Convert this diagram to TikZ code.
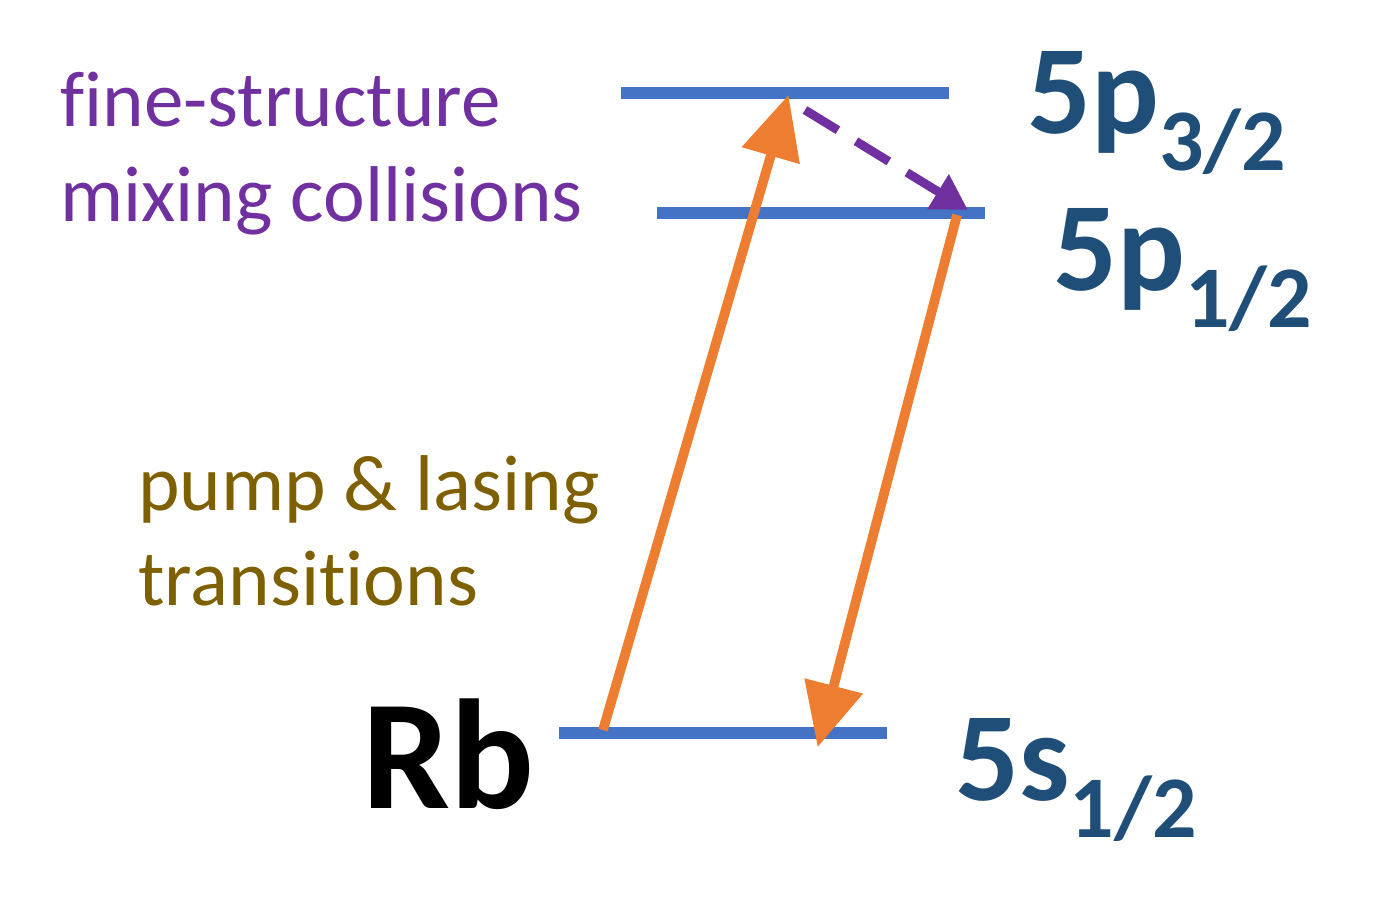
\documentclass[tikz,border=0pt]{standalone}
\usepackage{fontspec}
\setmainfont[Ligatures=NoCommon]{Carlito}
\usetikzlibrary{arrows.meta}
\definecolor{levelblue}{HTML}{4472C4}
\definecolor{labelblue}{HTML}{1F4E79}
\definecolor{pumporange}{HTML}{ED7D31}
\definecolor{mixpurple}{HTML}{7030A0}
\definecolor{pumpolive}{HTML}{7F6000}
\newcommand{\lvl}[2]{#1\raisebox{-0.3em}{\fontsize{50}{50}\selectfont #2}}
\begin{document}
\begin{tikzpicture}[x=0.02cm, y=-0.02cm,
  level/.style={levelblue, line width=6.8pt},
  state/.style={labelblue, font=\fontsize{72}{72}\selectfont\bfseries, anchor=base west, inner sep=0pt},
  note/.style={font=\fontsize{45}{54}\selectfont, align=left, anchor=north west, inner sep=0pt},
  transition/.style={pumporange, line width=5.5pt, -{Triangle[length=36pt, width=33pt]}, shorten >=-3pt}]

\useasboundingbox (0,0) rectangle (1389,909);

% levels
\coordinate (p3a) at (621,93);  \coordinate (p3b) at (949,93);
\coordinate (p1a) at (657,213); \coordinate (p1b) at (985,213);
\coordinate (s1a) at (559,733); \coordinate (s1b) at (887,733);
\draw [level] (p3a) -- (p3b);
\draw [level] (p1a) -- (p1b);
\draw [level] (s1a) -- (s1b);

\node (p3) [state] at (1027,133) {\lvl{5p}{3/2}};
\node (p1) [state] at (1053,290) {\lvl{5p}{1/2}};
\node (s1) [state] at (955,800) {\lvl{5s}{1/2}};
\node (rb) [font=\fontsize{89}{89}\selectfont\bfseries, anchor=base west, inner sep=0pt] at (362,808) {Rb};

\node (mix) [note, mixpurple] at (60,72) {fine-structure\\mixing collisions};
\node (pump) [note, pumpolive] at (138,455) {pump \& lasing\\transitions};

% transitions
\coordinate (up0) at (603,730); \coordinate (up1) at (787,100);
\coordinate (dn0) at (957,215); \coordinate (dn1) at (819,742);
\coordinate (mx0) at (805,110); \coordinate (mx1) at (968,210);
\draw [transition] (up0) -- (up1);
\draw [transition] (dn0) -- (dn1);
\draw [mixpurple, line width=5pt, dash pattern=on 22pt off 12pt, -{Triangle[length=20pt, width=22pt]}] (mx0) -- (mx1);

\end{tikzpicture}
\end{document}
